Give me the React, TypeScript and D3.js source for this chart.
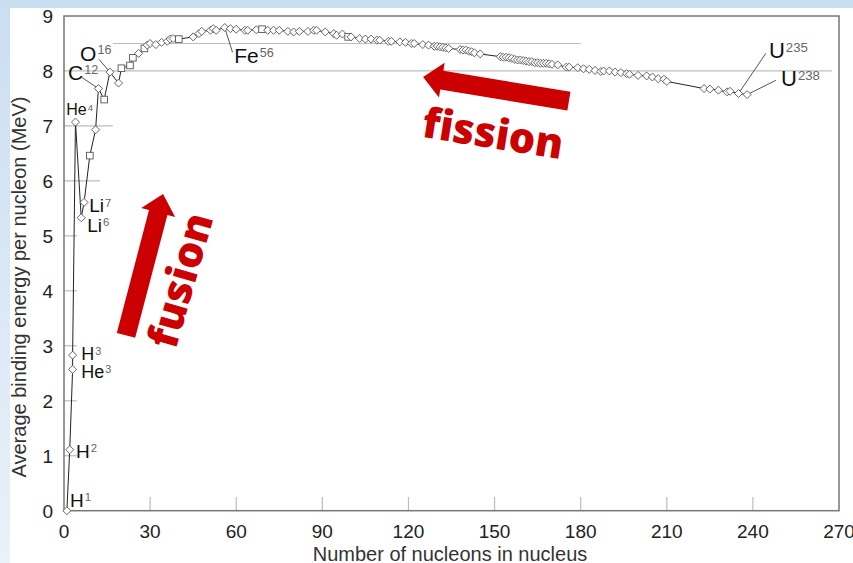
import React from "react";
import * as d3 from "d3";

const width = 853;
const height = 563;

// mass number A of each plotted nuclide
const massNumber = [
  1, 2, 3, 3, 4, 6, 7, 9, 11, 12, 14, 16, 19, 20, 23, 24, 26, 28, 29, 30, 32, 34, 36, 37, 38, 40,
  45, 47, 48, 51, 52, 53, 56, 58, 60, 63, 64, 67, 69, 71, 73, 75, 78, 80, 82, 85, 87, 88, 91, 94,
  95, 97, 99, 100, 103, 105, 107, 109, 110, 113, 114, 117, 119, 121, 122, 125, 127, 129, 130, 131,
  132, 133, 134, 138, 139, 140, 141, 142, 143, 145, 152, 153, 154, 155, 156, 157, 158, 159, 160,
  161, 162, 163, 164, 165, 166, 167, 168, 169, 170, 172, 175, 176, 179, 181, 183, 185, 187, 188,
  190, 192, 194, 196, 197, 200, 203, 205, 207, 209, 210, 223, 225, 228, 231, 232, 235, 238
];

// average binding energy per nucleon (MeV)
const bindingEnergy = [
  0, 1.11, 2.57, 2.83, 7.07, 5.33, 5.61, 6.46, 6.93, 7.68, 7.48, 7.98, 7.78, 8.05, 8.1, 8.24, 8.32,
  8.41, 8.47, 8.5, 8.48, 8.52, 8.54, 8.58, 8.59, 8.58, 8.62, 8.68, 8.72, 8.74, 8.77, 8.74, 8.79,
  8.77, 8.76, 8.74, 8.74, 8.75, 8.76, 8.74, 8.74, 8.74, 8.72, 8.71, 8.72, 8.72, 8.74, 8.74, 8.71,
  8.68, 8.65, 8.67, 8.62, 8.62, 8.59, 8.58, 8.58, 8.56, 8.56, 8.54, 8.54, 8.53, 8.52, 8.5, 8.5,
  8.48, 8.47, 8.45, 8.45, 8.44, 8.43, 8.42, 8.41, 8.39, 8.38, 8.38, 8.36, 8.35, 8.33, 8.31, 8.26,
  8.25, 8.25, 8.24, 8.23, 8.21, 8.2, 8.2, 8.19, 8.18, 8.17, 8.17, 8.15, 8.15, 8.14, 8.14, 8.14,
  8.13, 8.12, 8.11, 8.07, 8.07, 8.06, 8.04, 8.03, 8.01, 7.99, 8.0, 8.0, 7.98, 7.97, 7.95, 7.94,
  7.92, 7.91, 7.89, 7.86, 7.85, 7.81, 7.68, 7.67, 7.65, 7.62, 7.63, 7.59, 7.57
];

// nuclides drawn with a square marker instead of a diamond
const squareMarkers = [9, 14, 20, 23, 24, 28, 40, 69, 99];

const xTicks = [0, 30, 60, 90, 120, 150, 180, 210, 240, 270];
const yTicks = [0, 1, 2, 3, 4, 5, 6, 7, 8, 9];

// labelled nuclides: symbol, mass number, label anchor (A, MeV), font size
const labels = [
  { sym: "H", mass: "1", a: 2.1, e: 0.07, size: 19 },
  { sym: "H", mass: "2", a: 4.2, e: 0.96, size: 19 },
  { sym: "H", mass: "3", a: 6.0, e: 2.74, size: 18 },
  { sym: "He", mass: "3", a: 6.0, e: 2.41, size: 18 },
  { sym: "He", mass: "4", a: 0.8, e: 7.19, size: 16 },
  { sym: "Li", mass: "7", a: 8.8, e: 5.43, size: 19 },
  { sym: "Li", mass: "6", a: 8.1, e: 5.07, size: 19 },
  { sym: "C", mass: "12", a: 1.4, e: 7.83, size: 21 },
  { sym: "O", mass: "16", a: 5.6, e: 8.19, size: 21 },
  { sym: "Fe", mass: "56", a: 59.3, e: 8.14, size: 21 },
  { sym: "U", mass: "235", a: 245.6, e: 8.23, size: 22 },
  { sym: "U", mass: "238", a: 249.8, e: 7.72, size: 22 }
];

// leader lines from the labels to their points: [A1, E1, A2, E2]
const leaders = [
  [6.3, 7.88, 12, 7.68],
  [12.2, 8.21, 16, 7.98],
  [56, 8.79, 58.7, 8.34],
  [235, 7.59, 244.5, 8.32],
  [238, 7.57, 248, 7.83]
];

// light gray reference lines: [value, from A, to A]
const guides = [
  [8, 0, 267.5],
  [8.5, 17, 180],
  [7, 0, 17],
  [6, 0, 12.5],
  [5, 0, 4.5],
  [4, 0, 4.5],
  [3, 0, 4.5],
  [2, 0, 4.5],
  [1, 0, 4.5]
];

// big red annotations (tail A/E, tip A/E), word anchor
const fusionArrow = { a0: 21.6, e0: 3.19, a1: 34.5, e1: 5.76 };
const fissionArrow = { a0: 175.9, e0: 7.45, a1: 125.1, e1: 7.89 };
const fusionWord = { a: 45.5, e: 4.12, angle: -74, len: 138 };
const fissionWord = { a: 148.7, e: 6.6, angle: 9, len: 142 };

const x = d3.scaleLinear().domain([0, 270]).range([64, 839]);
const y = d3.scaleLinear().domain([0, 9]).range([510.7, 16]);

const sans = "'Liberation Sans', Arial, sans-serif";
const red = "#cc0000";

function Arrow({ a0, e0, a1, e1 }: { a0: number; e0: number; a1: number; e1: number }) {
  const x0 = x(a0), y0 = y(e0), x1 = x(a1), y1 = y(e1);
  const L = Math.hypot(x1 - x0, y1 - y0);
  const ang = (Math.atan2(y1 - y0, x1 - x0) * 180) / Math.PI;
  const hl = 19, hw = 17.5, sw = 9.5;
  const pts = [
    [0, -sw], [L - hl, -sw], [L - hl, -hw], [L, 0], [L - hl, hw], [L - hl, sw], [0, sw]
  ];
  return (
    <polygon
      points={pts.map(p => p.join(",")).join(" ")}
      fill={red}
      transform={`translate(${x0},${y0}) rotate(${ang})`}
    />
  );
}

export default function App() {
  const points = massNumber.map((a, i) => ({ a, e: bindingEnergy[i] }));
  const line = d3
    .line<{ a: number; e: number }>()
    .x(d => x(d.a))
    .y(d => y(d.e));

  return (
    <svg
      width={width}
      height={height}
      style={{ position: "fixed", left: 0, top: 0 }}
      fontFamily={sans}
    >
      <defs>
        <linearGradient id="bg" x1="0" y1="0" x2="0" y2="1">
          <stop offset="0" stopColor="#cadef2" />
          <stop offset="1" stopColor="#eaf1f9" />
        </linearGradient>
      </defs>
      <rect width={width} height={height} fill="url(#bg)" />
      <rect x={10} y={8} width={width - 10} height={height - 8} fill="#fff" />

      {guides.map(([v, f, t], i) => (
        <line key={i} x1={x(f)} x2={x(t)} y1={y(v)} y2={y(v)} stroke="#bdbdbd" strokeWidth={1.2} />
      ))}
      {xTicks.slice(1, -1).map(t => (
        <line key={t} x1={x(t)} x2={x(t)} y1={y(0)} y2={y(0.25)} stroke="#bdbdbd" strokeWidth={1.2} />
      ))}

      <rect
        x={x(0)}
        y={y(9)}
        width={x(270) - x(0)}
        height={y(0) - y(9)}
        fill="none"
        stroke="#777"
        strokeWidth={1.5}
      />

      {xTicks.map(t => (
        <text key={t} x={x(t)} y={y(0) + 27} fontSize={19} textAnchor="middle" fill="#222">
          {t}
        </text>
      ))}
      {yTicks.map(t => (
        <text key={t} x={53} y={y(t)} dy="0.36em" fontSize={19} textAnchor="end" fill="#222">
          {t}
        </text>
      ))}

      <text x={450} y={561} fontSize={20} textAnchor="middle" fill="#333">
        Number of nucleons in nucleus
      </text>
      <text
        transform={`translate(26,287) rotate(-90)`}
        fontSize={20}
        textAnchor="middle"
        fill="#333"
      >
        Average binding energy per nucleon (MeV)
      </text>

      {leaders.map(([a1, e1, a2, e2], i) => (
        <line key={i} x1={x(a1)} y1={y(e1)} x2={x(a2)} y2={y(e2)} stroke="#555" strokeWidth={1} />
      ))}

      <path d={line(points) || ""} fill="none" stroke="#222" strokeWidth={1} />
      {points.map((d, i) =>
        squareMarkers.includes(d.a) ? (
          <rect
            key={i}
            x={x(d.a) - 3.3}
            y={y(d.e) - 3.3}
            width={6.6}
            height={6.6}
            fill="#fff"
            stroke="#555"
            strokeWidth={0.9}
          />
        ) : (
          <path
            key={i}
            d="M0,-4L4,0L0,4L-4,0Z"
            transform={`translate(${x(d.a)},${y(d.e)})`}
            fill="#fff"
            stroke="#555"
            strokeWidth={0.9}
          />
        )
      )}

      {labels.map((l, i) => (
        <text key={i} x={x(l.a)} y={y(l.e)} fontSize={l.size} fill="#111">
          {l.sym}
          <tspan fontSize={l.size * 0.6} dy={-l.size * 0.3} dx={1} fill="#666">
            {l.mass}
          </tspan>
        </text>
      ))}

      <Arrow {...fusionArrow} />
      <Arrow {...fissionArrow} />
      <text
        transform={`translate(${x(fusionWord.a)},${y(fusionWord.e)}) rotate(${fusionWord.angle})`}
        fontFamily="'Open Sans', sans-serif"
        fontWeight={800}
        fontSize={42}
        fill={red}
        textAnchor="middle"
        textLength={fusionWord.len}
        lengthAdjust="spacingAndGlyphs"
      >
        fusion
      </text>
      <text
        transform={`translate(${x(fissionWord.a)},${y(fissionWord.e)}) rotate(${fissionWord.angle})`}
        fontFamily="'Open Sans', sans-serif"
        fontWeight={800}
        fontSize={42}
        fill={red}
        textAnchor="middle"
        textLength={fissionWord.len}
        lengthAdjust="spacingAndGlyphs"
      >
        fission
      </text>
    </svg>
  );
}
